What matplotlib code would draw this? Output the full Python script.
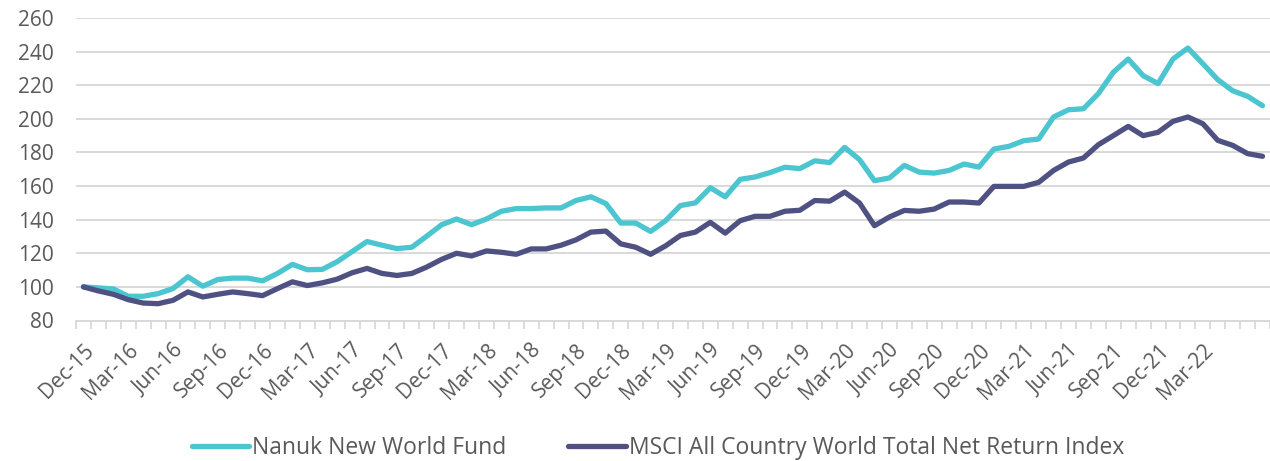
import numpy as np
import pandas as pd
import matplotlib
matplotlib.use("Agg")
import matplotlib.pyplot as plt

# ── Data ──────────────────────────────────────────────────────────────────────

MONTHS = pd.date_range("2015-12-01", periods=80, freq="MS").strftime("%b-%y").tolist()

NANUK = [
    100.0, 99.4, 98.8, 94.4, 94.4, 96.0, 99.0, 106.0, 100.4, 104.4,
    105.2, 105.2, 103.6, 108.0, 113.4, 110.2, 110.4, 115.0, 121.0, 127.0,
    124.8, 122.8, 123.6, 130.2, 137.0, 140.4, 137.0, 140.4, 145.0, 146.6,
    146.6, 147.0, 147.0, 151.4, 153.6, 149.6, 138.0, 138.0, 133.0, 139.4,
    148.4, 150.0, 159.0, 153.6, 164.0, 165.4, 168.0, 171.2, 170.4, 175.0,
    174.0, 183.0, 175.7, 163.2, 164.8, 172.3, 168.3, 167.7, 169.3, 173.1,
    171.3, 182.0, 183.6, 187.0, 188.0, 201.1, 205.4, 206.0, 215.0, 227.7,
    235.6, 225.7, 221.0, 235.6, 242.1, 232.8, 223.3, 216.7, 213.4, 207.8,
]
MSCI = [
    100.0, 97.6, 95.6, 92.4, 90.4, 90.0, 92.0, 97.0, 94.0, 95.6,
    97.0, 96.0, 94.8, 99.0, 103.0, 100.8, 102.4, 104.6, 108.4, 111.0,
    108.0, 106.8, 108.0, 111.8, 116.4, 120.0, 118.4, 121.4, 120.6, 119.4,
    122.6, 122.6, 124.8, 128.0, 132.6, 133.2, 125.6, 123.6, 119.4, 124.4,
    130.6, 132.6, 138.4, 132.0, 139.4, 142.0, 142.0, 145.0, 145.6, 151.4,
    151.0, 156.4, 149.9, 136.4, 141.6, 145.5, 145.0, 146.3, 150.5, 150.5,
    149.9, 159.8, 159.8, 159.8, 162.2, 169.3, 174.3, 176.7, 184.6, 190.0,
    195.5, 190.0, 192.0, 198.5, 201.1, 197.1, 187.2, 184.2, 179.3, 177.7,
]
SERIES_NAMES = ["Nanuk New World Fund", "MSCI All Country World Total Net Return Index"]
Y_TICKS = [80, 100, 120, 140, 160, 180, 200, 220, 240, 260]

C_NANUK = "#4bc5cf"
C_MSCI = "#4e5182"
C_TEXT = "#595959"
C_GRID = "#d9d9d9"

plt.rcParams["font.family"] = ["Open Sans", "DejaVu Sans"]

# ── Figure ────────────────────────────────────────────────────────────────────

fig = plt.figure(figsize=(12.7, 4.61), dpi=100)
ax = fig.add_axes([76 / 1270, 1 - 320.5 / 461, 1 - 76 / 1270, (320.5 - 18) / 461])

x = np.arange(len(MONTHS))
ax.plot(x, NANUK, color=C_NANUK, lw=3.8, solid_capstyle="round", label=SERIES_NAMES[0], zorder=3)
ax.plot(x, MSCI, color=C_MSCI, lw=3.8, solid_capstyle="round", label=SERIES_NAMES[1], zorder=3)

ax.set_ylim(80, 260)
ax.set_yticks(Y_TICKS)
ax.set_xlim(-0.5, 78.95)

# category tick marks between months, labels every quarter
ax.set_xticks(np.arange(-0.5, len(MONTHS), 1.0), minor=True)
ax.set_xticks(x[::3][:26])
ax.set_xticklabels([MONTHS[i] for i in x[::3][:26]], rotation=45, ha="right",
                   rotation_mode="anchor", fontsize=15, color=C_TEXT)
ax.tick_params(axis="x", which="major", length=0, pad=14)
ax.tick_params(axis="x", which="minor", length=6, width=1.3, color=C_GRID)
ax.tick_params(axis="y", length=0, pad=16, labelsize=15, labelcolor=C_TEXT)

ax.grid(axis="y", color=C_GRID, lw=1.4)
ax.set_axisbelow(True)
for side in ["top", "right", "left"]:
    ax.spines[side].set_visible(False)
ax.spines["bottom"].set_color(C_GRID)
ax.spines["bottom"].set_linewidth(1.4)

leg = fig.legend(loc="center", bbox_to_anchor=(658 / 1270, 1 - 448 / 461), ncol=2,
                 frameon=False, fontsize=16.5, handlelength=2.5, handletextpad=0.15,
                 columnspacing=2.7, labelcolor=C_TEXT)

fig.savefig("out.png", dpi=100)
